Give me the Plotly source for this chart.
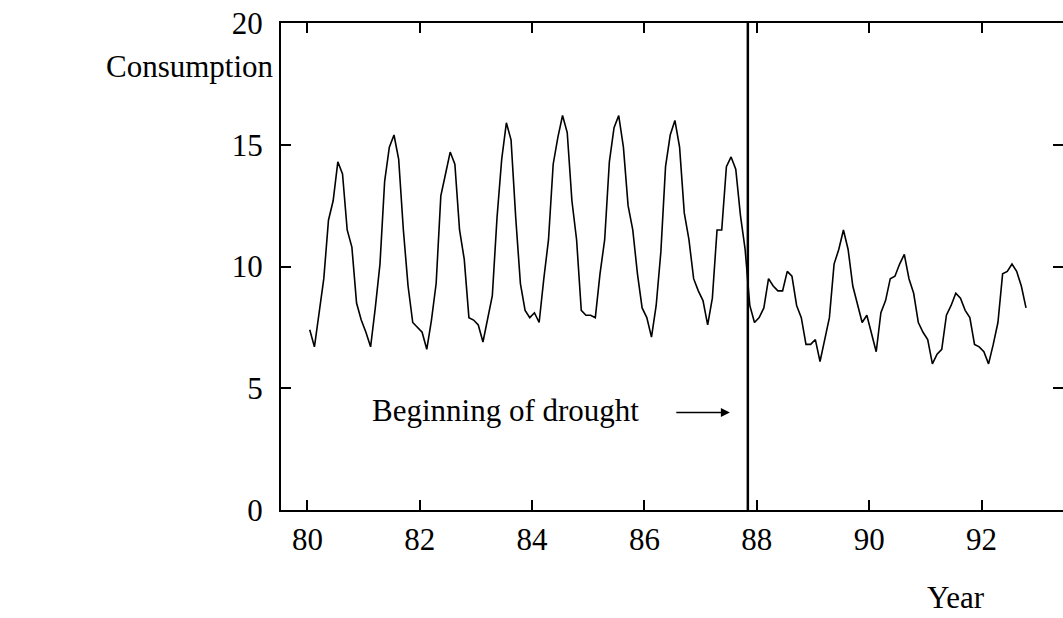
import plotly.graph_objects as go

# Monthly consumption, Jan 1980 .. Oct 1992
start_year = 80
consumption = [
    7.4, 6.7, 8.1, 9.5, 11.9, 12.7, 14.3, 13.8, 11.5, 10.8, 8.5, 7.8,      # 80
    7.3, 6.7, 8.3, 10.1, 13.5, 14.9, 15.4, 14.4, 11.5, 9.2, 7.7, 7.5,      # 81
    7.3, 6.6, 7.8, 9.3, 12.9, 13.8, 14.7, 14.2, 11.5, 10.3, 7.9, 7.8,      # 82
    7.6, 6.9, 7.9, 8.8, 12.0, 14.4, 15.9, 15.2, 12.0, 9.3, 8.2, 7.9,       # 83
    8.1, 7.7, 9.5, 11.1, 14.2, 15.3, 16.2, 15.5, 12.7, 11.1, 8.2, 8.0,     # 84
    8.0, 7.9, 9.7, 11.1, 14.3, 15.7, 16.2, 14.9, 12.5, 11.5, 9.7, 8.3,     # 85
    7.9, 7.1, 8.4, 10.6, 14.1, 15.4, 16.0, 14.9, 12.2, 11.1, 9.5, 9.0,     # 86
    8.6, 7.6, 8.7, 11.5, 11.5, 14.1, 14.5, 14.0, 12.1, 10.7, 8.4, 7.7,     # 87
    7.9, 8.3, 9.5, 9.2, 9.0, 9.0, 9.8, 9.6, 8.4, 7.9, 6.8, 6.8,            # 88
    7.0, 6.1, 7.0, 7.9, 10.1, 10.7, 11.5, 10.7, 9.2, 8.5, 7.7, 8.0,        # 89
    7.2, 6.5, 8.1, 8.6, 9.5, 9.6, 10.1, 10.5, 9.5, 8.9, 7.7, 7.3,          # 90
    7.0, 6.0, 6.4, 6.6, 8.0, 8.4, 8.9, 8.7, 8.2, 7.9, 6.8, 6.7,            # 91
    6.5, 6.0, 6.8, 7.7, 9.7, 9.8, 10.1, 9.8, 9.2, 8.3,                     # 92
]
months = [start_year + (k + 0.5) / 12 for k in range(len(consumption))]

drought_start = 87.84
x_ticks = [80, 82, 84, 86, 88, 90, 92]
x_tick_labels = ["80", "82", "84", "86", "88", "90", "92"]
y_ticks = [0, 5, 10, 15, 20]
y_tick_labels = ["0", "5", "10", "15", "20"]
x_range = [79.53, 93.45]
y_range = [0, 20]

FONT = "Liberation Serif"
FS = 31

fig = go.Figure()
fig.add_trace(go.Scatter(
    x=months, y=consumption, mode="lines",
    line=dict(color="black", width=1.6), showlegend=False, hoverinfo="skip",
))
# empty trace to materialise the right-hand tick axis
fig.add_trace(go.Scatter(x=[None], y=[None], yaxis="y2", showlegend=False,
                         hoverinfo="skip"))

fig.add_shape(type="line", xref="x", yref="y",
              x0=drought_start, x1=drought_start, y0=y_range[0], y1=y_range[1],
              line=dict(color="black", width=2.5))

fig.update_layout(
    width=1063, height=618,
    margin=dict(l=281, r=0, t=23, b=108),
    plot_bgcolor="white", paper_bgcolor="white",
    font=dict(family=FONT, size=FS, color="black"),
    xaxis=dict(
        range=x_range, tickmode="array", tickvals=x_ticks, ticktext=x_tick_labels,
        ticks="inside", ticklen=10, tickwidth=1.5, tickcolor="black",
        showline=True, linecolor="black", linewidth=2, mirror="ticks",
        showgrid=False, zeroline=False, ticklabelstandoff=1,
        tickfont=dict(family=FONT, size=FS, color="black"),
    ),
    yaxis=dict(
        range=y_range, tickmode="array", tickvals=y_ticks, ticktext=y_tick_labels,
        ticks="inside", ticklen=10, tickwidth=1.5, tickcolor="black",
        showline=True, linecolor="black", linewidth=2, mirror=False,
        showgrid=False, zeroline=False, ticklabelstandoff=10,
        tickfont=dict(family=FONT, size=FS, color="black"),
    ),
    yaxis2=dict(
        range=y_range, overlaying="y", side="right", tickmode="array",
        tickvals=y_ticks, ticks="inside", ticklen=10, tickwidth=1.5,
        tickcolor="black", showticklabels=False, showline=False,
        showgrid=False, zeroline=False,
    ),
    annotations=[
        dict(text="Consumption", xref="paper", yref="paper", x=-0.116, y=0.91,
             xanchor="center", yanchor="middle", showarrow=False,
             font=dict(family=FONT, size=FS, color="black")),
        dict(text="Year", xref="paper", yref="paper", x=0.863, y=-0.179,
             xanchor="center", yanchor="middle", showarrow=False,
             font=dict(family=FONT, size=FS, color="black")),
        dict(text="Beginning of drought", xref="x", yref="y", x=85.93, y=4.1,
             xanchor="right", yanchor="middle", showarrow=False,
             font=dict(family=FONT, size=FS, color="black")),
        dict(text="", xref="x", yref="y", x=87.52, y=4.0,
             axref="x", ayref="y", ax=86.54, ay=4.0,
             showarrow=True, arrowhead=2, arrowsize=1.2, arrowwidth=1.5,
             arrowcolor="black"),
    ],
)

fig.write_html("out.html")
